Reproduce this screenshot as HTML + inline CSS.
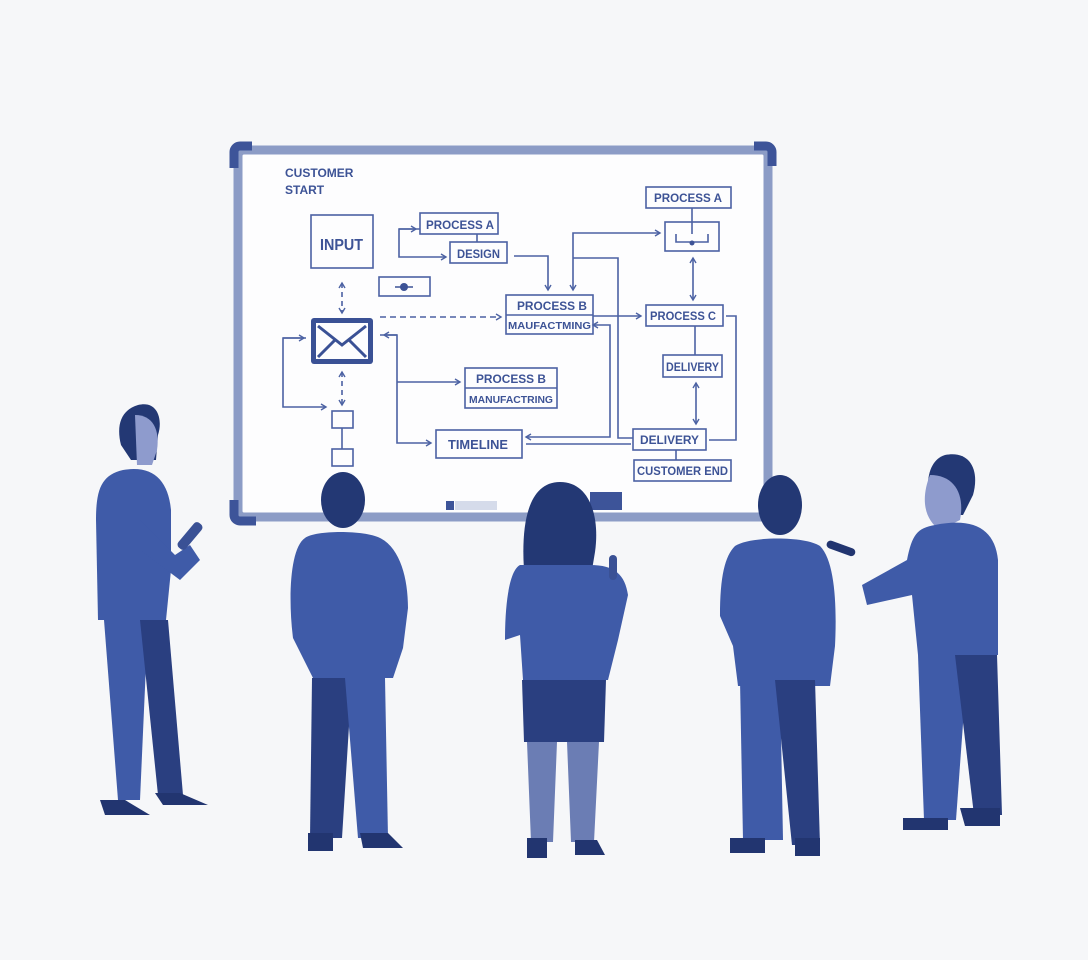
<!DOCTYPE html>
<html><head><meta charset="utf-8"><style>
html,body{margin:0;padding:0;background:#f6f7f9;}
svg{display:block}
text{font-family:"Liberation Sans",sans-serif;font-weight:bold;fill:#3d5396;}
</style></head><body>
<svg width="1088" height="960" viewBox="0 0 1088 960" xmlns="http://www.w3.org/2000/svg">
<defs>
<marker id="a" markerWidth="8" markerHeight="8" refX="6" refY="4" orient="auto-start-reverse" markerUnits="userSpaceOnUse"><path d="M1,1 L6,4 L1,7" fill="none" stroke="#4c62a3" stroke-width="1.4"/></marker>
</defs>
<rect width="1088" height="960" fill="#f6f7f9"/>
<!-- board -->
<rect x="238" y="150" width="530" height="367" fill="#fdfdfe" stroke="#8c9cc6" stroke-width="9" rx="6"/>
<path d="M234,168 V152 a6,6 0 0 1 6,-6 H252" stroke="#3d5499" stroke-width="9" fill="none"/>
<path d="M754,146 H766 a6,6 0 0 1 6,6 V166" stroke="#3d5499" stroke-width="9" fill="none"/>
<path d="M234,500 V515 a6,6 0 0 0 6,6 H256" stroke="#3d5499" stroke-width="9" fill="none"/>
<rect x="446" y="501" width="8" height="9" fill="#3d5499"/>
<rect x="455" y="501" width="42" height="9" fill="#d5dbea"/>
<rect x="590" y="492" width="32" height="18" fill="#3d5499"/>
<g fill="none" stroke="#4c62a3" stroke-width="1.6">
<rect x="311" y="215" width="62" height="53"/>
<rect x="379" y="277" width="51" height="19"/>
<rect x="420" y="213" width="78" height="21"/>
<rect x="450" y="242" width="57" height="21"/>
<rect x="506" y="295" width="87" height="39"/><line x1="506" y1="315" x2="593" y2="315"/>
<rect x="465" y="368" width="92" height="40"/><line x1="465" y1="388" x2="557" y2="388"/>
<rect x="436" y="430" width="86" height="28"/>
<rect x="332" y="411" width="21" height="17"/><rect x="332" y="449" width="21" height="17"/><line x1="342" y1="428" x2="342" y2="449"/>
<rect x="646" y="187" width="85" height="21"/>
<rect x="665" y="222" width="54" height="29"/><line x1="692" y1="208" x2="692" y2="234"/>
<path d="M676,234 v8 h32 v-8"/>
<rect x="646" y="305" width="77" height="21"/>
<rect x="663" y="355" width="59" height="22"/>
<rect x="633" y="429" width="73" height="21"/>
<rect x="634" y="460" width="97" height="21"/>
<line x1="477" y1="234" x2="477" y2="242"/>
<line x1="676" y1="450" x2="676" y2="460"/>
<line x1="695" y1="326" x2="695" y2="355"/>
<path d="M420,229 H399 V257 H446" marker-end="url(#a)"/>
<line x1="399" y1="229" x2="416" y2="229" marker-end="url(#a)"/>
<path d="M514,256 H548 V290" marker-end="url(#a)"/>
<path d="M573,290 V233 H660" marker-end="url(#a)" marker-start="url(#a)"/>
<path d="M573,258 H618 V438 H633"/>
<path d="M593,325 H610 V437 H526" marker-start="url(#a)" marker-end="url(#a)"/>
<line x1="593" y1="316" x2="641" y2="316" marker-end="url(#a)"/>
<line x1="693" y1="258" x2="693" y2="300" marker-start="url(#a)" marker-end="url(#a)"/>
<line x1="696" y1="383" x2="696" y2="424" marker-start="url(#a)" marker-end="url(#a)"/>
<path d="M726,316 H736 V440 H709"/>
<path d="M631,444 H526"/>
<line x1="380" y1="317" x2="501" y2="317" stroke-dasharray="6,4" marker-end="url(#a)"/>
<line x1="342" y1="283" x2="342" y2="313" stroke-dasharray="5,4" marker-start="url(#a)" marker-end="url(#a)"/>
<line x1="342" y1="372" x2="342" y2="405" stroke-dasharray="5,4" marker-start="url(#a)" marker-end="url(#a)"/>
<path d="M306,338 H283 V407 H326" marker-end="url(#a)"/>
<line x1="283" y1="338" x2="304" y2="338" marker-end="url(#a)"/>
<path d="M380,335 H397 V443 H431" marker-end="url(#a)"/>
<line x1="384" y1="335" x2="397" y2="335" marker-start="url(#a)"/>
<line x1="397" y1="382" x2="460" y2="382" marker-end="url(#a)"/>
</g>
<circle cx="404" cy="287" r="4" fill="#3d5396"/><line x1="395" y1="287" x2="413" y2="287" stroke="#3d5396" stroke-width="1.5"/>
<circle cx="692" cy="243" r="2.5" fill="#3d5396"/>
<rect x="311" y="318" width="62" height="46" rx="3" fill="#3a5195"/>
<rect x="316" y="323" width="52" height="36" fill="#fdfdfe"/>
<path d="M318,326 L342,345 L366,326 M318,357 L335,340 M366,357 L349,340" stroke="#3a5195" stroke-width="3" fill="none"/>
<text x="285" y="177" font-size="12">CUSTOMER</text>
<text x="285" y="194" font-size="12">START</text>
<text x="320" y="250" font-size="16" textLength="43" lengthAdjust="spacingAndGlyphs">INPUT</text>
<text x="426" y="229" font-size="12" textLength="68" lengthAdjust="spacingAndGlyphs">PROCESS A</text>
<text x="457" y="258" font-size="12" textLength="43" lengthAdjust="spacingAndGlyphs">DESIGN</text>
<text x="517" y="310" font-size="12" textLength="70" lengthAdjust="spacingAndGlyphs">PROCESS B</text>
<text x="508" y="329" font-size="10.5" textLength="83" lengthAdjust="spacingAndGlyphs">MAUFACTMING</text>
<text x="476" y="383" font-size="12" textLength="70" lengthAdjust="spacingAndGlyphs">PROCESS B</text>
<text x="469" y="403" font-size="10.5" textLength="84" lengthAdjust="spacingAndGlyphs">MANUFACTRING</text>
<text x="448" y="449" font-size="13" textLength="60" lengthAdjust="spacingAndGlyphs">TIMELINE</text>
<text x="654" y="202" font-size="12" textLength="68" lengthAdjust="spacingAndGlyphs">PROCESS A</text>
<text x="650" y="320" font-size="12" textLength="66" lengthAdjust="spacingAndGlyphs">PROCESS C</text>
<text x="666" y="371" font-size="12" textLength="53" lengthAdjust="spacingAndGlyphs">DELIVERY</text>
<text x="640" y="444" font-size="12" textLength="59" lengthAdjust="spacingAndGlyphs">DELIVERY</text>
<text x="637" y="475" font-size="11.5" textLength="91" lengthAdjust="spacingAndGlyphs">CUSTOMER END</text>
<g>
<path d="M138,405 c20,-5 25,15 20,30 l-2,25 h-25 l-10,-15 c-5,-20 0,-35 17,-40z" fill="#233874"/>
<path d="M135,415 c18,0 25,15 22,35 l-5,15 h-15 z" fill="#8e9bcd"/>
<path d="M123,470 c30,-5 45,10 48,40 v60 l-5,50 h-68 l-2,-100 c0,-30 5,-45 27,-50z" fill="#3f5ba8"/>
<path d="M140,520 l35,35 l15,-10 l10,15 l-20,20 l-40,-30z" fill="#3f5ba8"/>
<rect x="185" y="520" width="10" height="32" rx="4" transform="rotate(40 190 536)" fill="#3a5195"/>
<path d="M104,620 h44 l-8,180 h-22 z" fill="#3f5ba8"/>
<path d="M140,620 h28 l15,175 h-25 z" fill="#2a3f80"/>
<path d="M100,800 h25 l25,15 h-45z M155,793 h25 l28,12 h-45z" fill="#223570"/>
<ellipse cx="343" cy="500" rx="22" ry="28" fill="#233874"/>
<path d="M305,538 c10,-8 60,-8 75,0 c20,10 28,40 28,70 l-5,40 l-10,30 h-80 l-20,-40 c-5,-40 -3,-90 12,-100z" fill="#3f5ba8"/>
<path d="M312,678 h40 l-10,160 h-32 z" fill="#2a3f80"/>
<path d="M345,678 h40 l3,160 h-30 z" fill="#3f5ba8"/>
<path d="M308,833 h25 v18 h-25z M360,833 h28 l15,15 h-40z" fill="#223570"/>
<path d="M560,482 c30,0 40,35 35,70 l-5,30 h-65 c-5,-50 0,-100 35,-100z" fill="#233874"/>
<path d="M520,565 l70,0 c25,0 35,10 38,30 l-10,45 l-10,40 h-85 l-3,-45 l-15,5 c0,-40 5,-70 15,-75z" fill="#3f5ba8"/>
<rect x="609" y="555" width="8" height="25" rx="4" fill="#3a5195"/>
<path d="M522,680 h84 l-2,62 h-80z" fill="#2a3f80"/>
<path d="M527,742 h30 l-4,100 h-22z M567,742 h32 l-5,100 h-23z" fill="#6b7db4"/>
<path d="M527,838 h20 v20 h-20z M575,840 h22 l8,15 h-30z" fill="#223570"/>
<ellipse cx="780" cy="505" rx="22" ry="30" fill="#233874"/>
<path d="M735,546 c15,-10 70,-10 85,0 c15,15 17,60 15,100 l-5,40 h-92 l-5,-40 l-13,-30 c0,-40 5,-60 15,-70z" fill="#3f5ba8"/>
<path d="M740,680 h40 l3,160 h-40z" fill="#3f5ba8"/>
<path d="M775,680 h40 l5,165 h-28z" fill="#2a3f80"/>
<path d="M730,838 h35 v15 h-35z M795,838 h25 v18 h-25z" fill="#223570"/>
<path d="M945,455 c25,-5 35,15 28,40 l-10,20 h-30 c-10,-30 -5,-55 12,-60z" fill="#233874"/>
<path d="M930,475 c25,0 35,20 30,45 l-20,10 c-15,-10 -20,-30 -10,-55z" fill="#8e9bcd"/>
<path d="M935,525 c40,-8 60,5 63,35 v95 h-80 l-6,-60 l-45,10 l-5,-20 l45,-25 c5,-25 10,-32 28,-35z" fill="#3f5ba8"/>
<rect x="826" y="544" width="30" height="8" rx="4" transform="rotate(20 840 548)" fill="#223570"/>
<path d="M918,655 h50 l-12,165 h-32z" fill="#3f5ba8"/>
<path d="M955,655 h42 l5,160 h-28z" fill="#2a3f80"/>
<path d="M903,818 h45 v12 h-45z M960,808 h40 v18 h-35z" fill="#223570"/>
</g>
</svg>
</body></html>
